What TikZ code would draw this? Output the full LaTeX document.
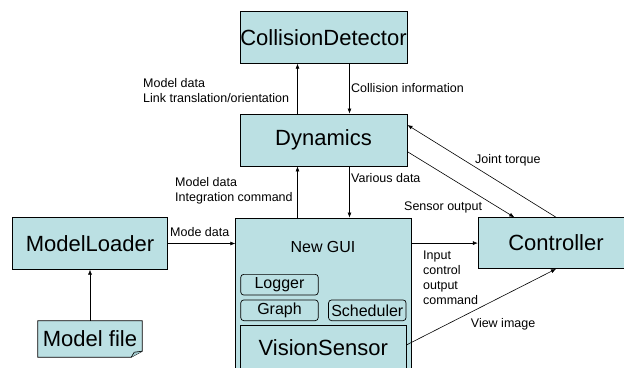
\documentclass[tikz,border=0pt]{standalone}
\usepackage{fontspec}
\setmainfont{Liberation Sans}
\definecolor{boxCyan}{RGB}{187,224,227}
\definecolor{foldCyan}{RGB}{160,200,204}
\usetikzlibrary{positioning,calc,arrows.meta,backgrounds}

\begin{document}
\begin{tikzpicture}[x=1pt,y=-1pt,
    block/.style={draw,fill=boxCyan,line width=0.9pt,inner sep=0pt,font=\fontsize{22}{26}\selectfont},
    part/.style={draw,fill=boxCyan,rounded corners=3pt,line width=0.7pt,inner sep=0pt,
                 minimum width=77.5pt,minimum height=20.7pt,font=\fontsize{16}{19}\selectfont},
    lbl/.style={font=\fontsize{12.5}{15}\selectfont,align=left,anchor=west,inner sep=0pt},
    flow/.style={-{Latex[length=5pt,width=4pt]},line width=0.6pt}]
    \useasboundingbox (0,0) rectangle (624,367);

    % main blocks
    \node[block,minimum width=167pt,minimum height=51.5pt] (cd) at (323.5,37.5) {CollisionDetector};
    \node[block,minimum width=167pt,minimum height=52pt] (dyn) at (323.5,140) {Dynamics};
    \node[block,minimum width=154.6pt,minimum height=51.3pt] (loader) at (90,243.5) {ModelLoader};
    \node[block,minimum width=155.4pt,minimum height=50.8pt] (ctrl) at (556,243.1) {Controller};

    % GUI with its parts
    \node[block,minimum width=175.6pt,minimum height=170pt] (gui) at (323.5,303) {};
    \node[font=\fontsize{16}{19}\selectfont] (guiTitle) at (323,247) {New GUI};
    \node[part] (logger) at (279.5,284.7) {Logger};
    \node[part] (graph) at (279.5,310.3) {Graph};
    \node[part] (sched) at (367.3,310.3) {Scheduler};
    \node[block,minimum width=165.3pt,minimum height=43.3pt,line width=0.8pt] (vision) at (323.3,347.3) {VisionSensor};

    % model file (folded corner)
    \node[inner sep=0pt,minimum width=104pt,minimum height=36pt,font=\fontsize{22}{26}\selectfont] (mfile) at (90,339) {Model file};
    \begin{scope}[on background layer]
        \filldraw[fill=boxCyan,line width=0.8pt] (mfile.north west) -- (mfile.north east)
            -- ($(mfile.south east)+(0,-6)$) -- ($(mfile.south east)+(-11,0)$)
            -- (mfile.south west) -- cycle;
        \filldraw[fill=foldCyan,line width=0.6pt] ($(mfile.south east)+(-11,0)$)
            -- ($(mfile.south east)+(-8,-5)$) -- ($(mfile.south east)+(0,-6)$);
    \end{scope}

    % connectors
    \draw[flow] (mfile) -- (loader);
    \draw[flow] (loader.east) -- (loader.east -| gui.west);
    \draw[flow] ($(gui.north)+(-26,0)$) -- ($(dyn.south)+(-26,0)$);
    \draw[flow] ($(dyn.south)+(26,0)$) -- ($(gui.north)+(26,0)$);
    \draw[flow] ($(dyn.north)+(-26,0)$) -- ($(cd.south)+(-26,0)$);
    \draw[flow] ($(cd.south)+(26,0)$) -- ($(dyn.north)+(26,0)$);
    \draw[flow] (gui.east |- ctrl.west) -- (ctrl.west);
    \draw[flow] (ctrl.north) -- ([yshift=15pt]dyn.east);
    \draw[flow] ([yshift=-11.7pt]dyn.east) -- ([xshift=-41.7pt]ctrl.north);
    \draw[flow] ([yshift=2.3pt]vision.east) -- (ctrl.south);

    % labels
    \node[lbl] (lblLink) at (143,90.2) {Model data\\Link translation/orientation};
    \node[lbl] (lblColl) at (351,88.3) {Collision information};
    \node[lbl] (lblInteg) at (175,190.3) {Model data\\Integration command};
    \node[lbl] (lblVarious) at (351,178.3) {Various data};
    \node[lbl] (lblTorque) at (475,160) {Joint torque};
    \node[lbl] (lblSensor) at (404,207.7) {Sensor output};
    \node[lbl] (lblMode) at (170,232) {Mode data};
    \node[lbl] (lblInput) at (423,277.5) {Input\\control\\output\\command};
    \node[lbl] (lblView) at (470.7,324) {View image};
\end{tikzpicture}
\end{document}
